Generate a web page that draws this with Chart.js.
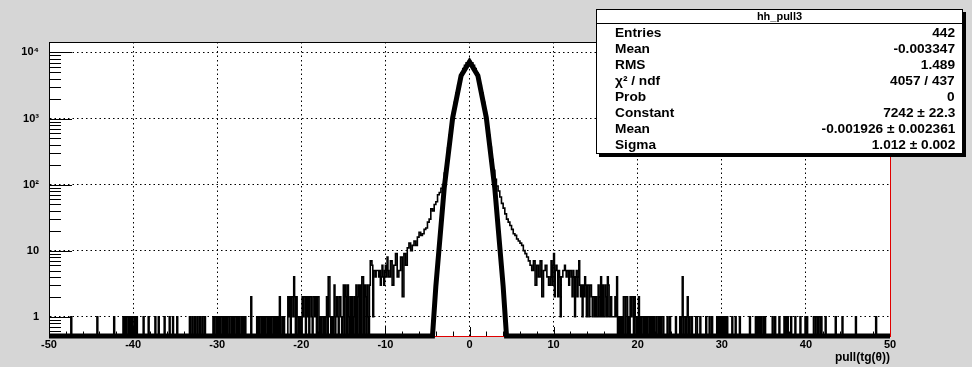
<!DOCTYPE html>
<html>
<head>
<meta charset="utf-8">
<title>hh_pull3</title>
<script src="https://cdn.jsdelivr.net/npm/chart.js@4.4.1/dist/chart.umd.min.js"></script>
<style>
  html, body { margin: 0; padding: 0; background: #d6d6d6; }
  #wrap { position: relative; width: 972px; height: 367px; overflow: hidden; }
  #pull-chart { position: absolute; left: 0; top: 0; }
  #stats {
    position: absolute; left: 596px; top: 9px; width: 367px; height: 145px;
    box-sizing: border-box; background: #fff; border: 1px solid #000;
    box-shadow: 3px 3px 0 #000;
    font-family: 'Liberation Sans', Arial, sans-serif; font-weight: bold; color: #000;
  }
  #stats .title {
    position: absolute; left: 0; right: 0; top: 0; height: 13px; line-height: 13px;
    text-align: center; font-size: 11px; border-bottom: 1px solid #000;
  }
  #stats .row { position: absolute; left: 18px; right: 7px; height: 14px; line-height: 14px; font-size: 12px; }
  #stats .name { position: absolute; left: 0; transform: scaleX(1.14); transform-origin: left center; white-space: nowrap; }
  #stats .val { position: absolute; right: 0; transform: scaleX(1.14); transform-origin: right center; white-space: nowrap; }
</style>
</head>
<body>
<div id="wrap">
  <canvas id="pull-chart" width="972" height="367"></canvas>
  <div id="stats"></div>
</div>
<script>
// axis ranges and labels
const X_MIN = -50;
const X_MAX = 50;
const BIN_W = 0.1;
const Y_MIN = 0.51;
const Y_MAX = 14400;
const X_TICKS = [-50, -40, -30, -20, -10, 0, 10, 20, 30, 40, 50];
const X_TICK_LABELS = ['-50', '-40', '-30', '-20', '-10', '0', '10', '20', '30', '40', '50'];
const Y_TICKS = [1, 10, 100, 1000, 10000];
const Y_TICK_LABELS = ['1', '10', '10²', '10³', '10⁴'];
const X_TITLE = 'pull(tg(θ))';

// stats box
const STAT_TITLE = 'hh_pull3';
const STAT_NAMES = ['Entries', 'Mean', 'RMS', 'χ² / ndf', 'Prob', 'Constant', 'Mean', 'Sigma'];
const STAT_VALUES = ['442', '-0.003347', '1.489', '4057 / 437', '0', '7242 ± 22.3', '-0.001926 ± 0.002361', '1.012 ± 0.002'];

// far tails: single entries (bin low edge)
const LEFT_FAR_X = [-47.4, -44.3, -42.3, -41.2, -41.0, -40.8, -40.7, -40.5, -40.3, -40.1, -40.0, -39.8, -39.6,
  -38.8, -38.2, -37.4, -37.0, -36.3, -35.7, -35.3, -34.8, -33.3, -33.0, -32.7, -32.4, -32.1, -31.8, -31.5];
const RIGHT_FAR_X = [31.2, 31.6, 32.1, 33.3, 34.0, 34.2, 34.4, 34.6, 34.9, 35.1, 36.0, 36.3, 36.8, 37.4, 37.6,
  37.8, 38.2, 38.7, 39.3, 39.9, 40.1, 40.9, 41.0, 41.2, 41.3, 41.5, 41.6, 41.8, 42.3, 43.5, 44.3, 45.9, 48.3];

// mid tails, one count per 0.1 bin
const LEFT_MID_START = -31.0;
const LEFT_MID = [
  0,0,0,0,0,1,0,1,1,0,  1,0,1,0,1,1,0,1,0,1,  0,1,0,1,1,0,0,1,0,1,  0,1,1,0,1,0,1,0,0,1,
  0,1,0,1,0,0,0,0,0,0,  2,0,0,0,0,0,0,1,0,1,  0,1,1,0,1,0,1,0,1,1,  0,1,0,1,0,1,1,0,1,0,
  1,0,1,0,2,0,0,1,0,1,  0,0,0,0,2,1,2,0,2,2,  1,4,2,0,2,1,0,1,0,1,  0,2,1,2,2,0,2,1,2,0,
  2,2,1,0,2,2,1,2,0,2,  2,0,1,0,1,1,0,1,0,1,  2,0,4,4,1,0,1,0,1,3,  0,1,2,1,0,2,2,1,0,1,
  3,0,3,2,0,3,1,0,2,0,  2,0,1,2,0,3,0,2,3,0,  3,0,4,4,0,3,2,0,3,1,  0,3,7,7,6,1,5,5,4,5,
  5,5,4,5,3,4,6,4,3,5,  6,4,8,5
];
const RIGHT_MID_START = 9.6;
const RIGHT_MID = [
  4,7,3,6,
  9,2,5,6,5,2,5,4,1,4,  4,5,5,6,5,4,5,5,3,5,  5,4,2,5,4,1,4,5,2,4,  7,3,2,3,1,3,2,4,3,1,
  3,3,1,3,3,2,1,2,2,1,  2,1,1,3,2,1,4,1,3,1,  1,3,2,1,4,3,1,1,2,1,  1,1,1,2,1,4,0,1,0,1,
  0,1,0,2,2,0,2,2,0,1,  0,2,1,2,2,0,2,1,0,1,  0,2,0,1,0,1,1,0,1,0,  1,0,1,1,0,1,0,1,0,1,
  0,0,1,0,0,1,0,1,0,0,  1,0,0,0,0,1,0,0,1,0,  0,0,0,0,0,1,0,0,0,0,  1,0,1,4,0,1,1,0,1,2,
  0,1,0,0,1,0,0,0,0,1,  1,0,0,0,1,0,0,0,0,0,  0,1,0,0,0,1,0,0,1,0,  0,0,0,0,1,0,1,0,1,0,
  1,0,1,0,1,0,1,0,0,0
];

// core, read in 0.2 steps
const CORE_START = -9.6;
const CORE_STEP = 0.2;
const CORE = [
  4, 7, 3, 6, 9, 4, 5, 8, 2, 9, 6, 11, 13, 10, 12, 14, 12, 16, 19, 17, 18, 21, 22, 27, 30, 43, 40, 50, 55, 70, 76, 88,
  100, 150, 230, 360, 560, 840, 1240, 1760, 2420, 3170, 4010, 4880, 5700, 6400, 6950, 7300,
  7300, 6950, 6400, 5700, 4880, 4010, 3170, 2420, 1760, 1240, 840, 560, 370, 240, 165, 120, 95,
  80, 65, 52, 44, 36, 30, 27, 24, 21, 18, 17, 15, 14, 13, 12, 10, 9, 8, 7, 6, 5, 7, 3, 6, 4, 7, 2, 5, 6, 4, 3
];

// gaussian fit curve as drawn
const FIT_X = [-50, -4.4, -4, -3, -2, -1, 0, 1, 2, 3, 4, 4.4, 50];
const FIT_Y = [0.51, 0.51, 2.9, 90, 1030, 4450, 7240, 4450, 1030, 90, 2.9, 0.51, 0.51];

// build bin table
const nBins = Math.round((X_MAX - X_MIN) / BIN_W);
const counts = new Array(nBins).fill(0);
const binOf = x => Math.round((x - X_MIN) / BIN_W);
LEFT_FAR_X.concat(RIGHT_FAR_X).forEach(x => { counts[binOf(x)] += 1; });
LEFT_MID.forEach((c, i) => { counts[binOf(LEFT_MID_START) + i] = c; });
RIGHT_MID.forEach((c, i) => { counts[binOf(RIGHT_MID_START) + i] = c; });
CORE.forEach((c, i) => {
  const b = binOf(CORE_START + i * CORE_STEP);
  counts[b] = c;
  counts[b + 1] = c;
});

// zero bins sit on the frame floor, like ROOT does on a log axis
const histPoints = counts.map((c, i) => ({ x: X_MIN + i * BIN_W, y: Math.max(c, Y_MIN) }));
histPoints.push({ x: X_MAX, y: Math.max(counts[nBins - 1], Y_MIN) });
const fitPoints = FIT_X.map((x, i) => ({ x, y: FIT_Y[i] }));

// stats box
const stats = document.getElementById('stats');
const title = document.createElement('div');
title.className = 'title';
title.textContent = STAT_TITLE;
stats.appendChild(title);
STAT_NAMES.forEach((name, i) => {
  const row = document.createElement('div');
  row.className = 'row';
  row.style.top = (15.5 + 16 * i) + 'px';
  const n = document.createElement('span');
  n.className = 'name';
  n.textContent = name;
  const v = document.createElement('span');
  v.className = 'val';
  v.textContent = STAT_VALUES[i];
  row.appendChild(n);
  row.appendChild(v);
  stats.appendChild(row);
});

const FONT = "'Liberation Sans', Arial, sans-serif";

// white frame, inside ticks, top and right frame edges
const rootFrame = {
  id: 'rootFrame',
  beforeDraw(chart) {
    const { ctx, chartArea: a } = chart;
    ctx.save();
    ctx.fillStyle = '#fff';
    ctx.fillRect(a.left, a.top, a.right - a.left, a.bottom - a.top);
    ctx.restore();
  },
  afterDatasetsDraw(chart) {
    const { ctx, chartArea: a, scales: { x, y } } = chart;
    ctx.save();
    ctx.strokeStyle = '#000';
    ctx.lineWidth = 1;
    ctx.beginPath();
    for (let e = -1; e <= 4; e++) {
      for (let k = 1; k <= 9; k++) {
        const v = k * Math.pow(10, e);
        if (v < Y_MIN || v > Y_MAX) continue;
        const py = Math.round(y.getPixelForValue(v)) + 0.5;
        ctx.moveTo(a.left, py);
        ctx.lineTo(a.left + (k === 1 ? 23 : 12), py);
      }
    }
    for (let v = X_MIN; v <= X_MAX; v += 2) {
      const px = Math.round(x.getPixelForValue(v)) + 0.5;
      ctx.moveTo(px, a.bottom);
      ctx.lineTo(px, a.bottom - (v % 10 === 0 ? 9 : 4.5));
    }
    ctx.stroke();
    ctx.beginPath();
    ctx.moveTo(a.left, a.top + 0.5);
    ctx.lineTo(a.right + 1, a.top + 0.5);
    ctx.stroke();
    ctx.strokeStyle = '#e00000';
    ctx.beginPath();
    ctx.moveTo(a.right + 0.5, a.top);
    ctx.lineTo(a.right + 0.5, a.bottom);
    ctx.stroke();
    ctx.restore();
  }
};

const ctx = document.getElementById('pull-chart').getContext('2d');
new Chart(ctx, {
  type: 'line',
  data: {
    datasets: [
      {
        label: 'gaus',
        data: fitPoints,
        borderColor: '#000',
        borderWidth: 5,
        borderJoinStyle: 'miter',
        pointRadius: 0,
        tension: 0,
        clip: { left: 0, top: 0, right: 0, bottom: 3 }
      },
      {
        label: 'hh_pull3',
        data: histPoints,
        stepped: 'before',
        borderColor: '#000',
        borderWidth: 1.6,
        pointRadius: 0,
        clip: 0
      }
    ]
  },
  options: {
    responsive: false,
    animation: false,
    events: [],
    layout: { padding: { top: 42, right: 82, bottom: 0, left: 0 } },
    plugins: {
      legend: { display: false },
      tooltip: { enabled: false }
    },
    scales: {
      x: {
        type: 'linear',
        min: X_MIN,
        max: X_MAX,
        afterFit: s => { s.height = 31; },
        afterBuildTicks: s => { s.ticks = X_TICKS.map(v => ({ value: v })); },
        ticks: {
          autoSkip: false,
          maxRotation: 0,
          padding: 2,
          color: '#000',
          font: { family: FONT, size: 11, weight: 'bold' },
          callback: (v, i) => X_TICK_LABELS[i]
        },
        grid: {
          drawTicks: false,
          lineWidth: 1,
          color: c => (c.tick && Math.abs(c.tick.value) === 50) ? 'rgba(0,0,0,0)' : '#000'
        },
        border: { color: '#e00000', width: 1, dash: [1.5, 3] },
        title: {
          display: true,
          text: X_TITLE,
          align: 'end',
          color: '#000',
          font: { family: FONT, size: 12, weight: 'bold' },
          padding: { top: 0, bottom: 2 }
        }
      },
      y: {
        type: 'logarithmic',
        min: Y_MIN,
        max: Y_MAX,
        afterFit: s => { s.width = 49; },
        afterBuildTicks: s => { s.ticks = Y_TICKS.map(v => ({ value: v })); },
        ticks: {
          autoSkip: false,
          padding: 10,
          color: '#000',
          font: { family: FONT, size: 11, weight: 'bold' },
          callback: (v, i) => Y_TICK_LABELS[i]
        },
        grid: { drawTicks: false, lineWidth: 1, color: '#000' },
        border: { color: '#000', width: 1, dash: [1.5, 3] }
      }
    }
  },
  plugins: [rootFrame]
});
</script>
</body>
</html>
